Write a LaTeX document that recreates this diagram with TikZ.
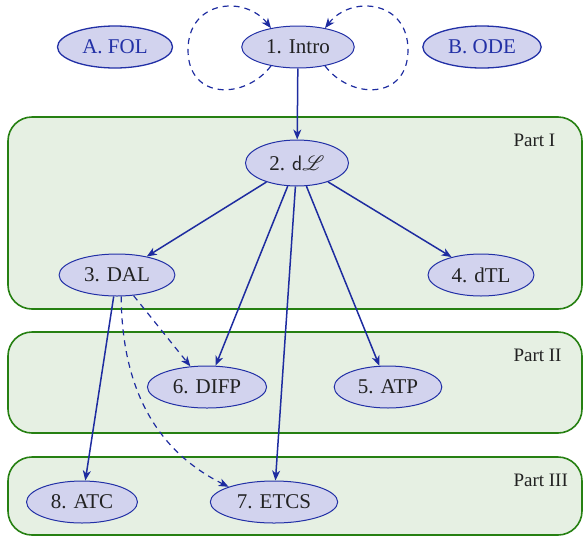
\documentclass[tikz,border=0pt]{standalone}
\usepackage{fontspec}
\usepackage{mathrsfs}
\setmainfont{Liberation Serif}
\usetikzlibrary{shapes.geometric,arrows.meta}

\definecolor{nodefill}{RGB}{210,211,238}
\definecolor{nodeline}{RGB}{34,48,166}
\definecolor{edgecol}{RGB}{30,44,160}
\definecolor{partfill}{RGB}{230,240,227}
\definecolor{partline}{RGB}{38,128,18}
\definecolor{textcol}{RGB}{34,34,34}

\tikzset{
  topic/.style={ellipse, draw=nodeline, line width=1pt, fill=nodefill,
    text=textcol, inner xsep=8pt, inner ysep=2pt, minimum height=42pt,
    font=\fontsize{21}{24}\selectfont},
  extra/.style={topic, text=nodeline, line width=1.3pt},
  partbox/.style={draw=partline, line width=1.6pt, fill=partfill, rounded corners=24pt},
  partlabel/.style={anchor=west, text=textcol, font=\fontsize{19}{22}\selectfont},
  dep/.style={draw=edgecol, line width=1.5pt,
    -{Stealth[length=10pt,width=8pt,inset=3pt]}},
  soft/.style={dep, line width=1.2pt, dash pattern=on 6pt off 5pt},
}

\begin{document}
\begin{tikzpicture}[x=1pt,y=-1pt]
\useasboundingbox (0,0) rectangle (583,536);

% course parts
\draw[partbox] (8,117) rectangle (582,309);
\draw[partbox] (8,332) rectangle (582,433);
\draw[partbox] (8,457) rectangle (582,535);
\node[partlabel] (p1) at (510,140) {Part I};
\node[partlabel] (p2) at (510,355) {Part II};
\node[partlabel] (p3) at (510,480) {Part III};

% chapters
\node[extra] (fol) at (115,47) {A. FOL};
\node[topic] (intro) at (298,47) {1. Intro};
\node[extra] (ode) at (482,47) {B. ODE};
\node[topic, minimum width=103pt, minimum height=46pt] (dl) at (297,163) {2. $\mathsf{d}\mathscr{L}$};
\node[topic] (dal) at (117,275) {3. DAL};
\node[topic] (dtl) at (481,275) {4. dTL};
\node[topic] (difp) at (207,387) {6. DIFP};
\node[topic] (atp) at (388,387) {5. ATP};
\node[topic] (atc) at (82,502) {8. ATC};
\node[topic] (etcs) at (274,502) {7. ETCS};

% dependencies
\draw[dep] (intro) -- (dl);
\draw[dep] (dl) -- (dal);
\draw[dep] (dl) -- (dtl);
\draw[dep] (dl) -- (difp);
\draw[dep] (dl) -- (atp);
\draw[dep] (dl) -- (etcs);
\draw[dep] (dal) -- (atc);
\draw[soft] (dal) -- (difp);
\draw[soft] (dal.281) .. controls (122,400) and (165,455) .. (etcs.north west);

% optional loops back into the introduction
\draw[soft] (intro.215) .. controls (245,100) and (188,100) .. (188,50)
  .. controls (188,0) and (245,-5) .. (intro.145);
\draw[soft] (intro.325) .. controls (351,100) and (408,100) .. (408,50)
  .. controls (408,0) and (351,-5) .. (intro.35);
\end{tikzpicture}
\end{document}
